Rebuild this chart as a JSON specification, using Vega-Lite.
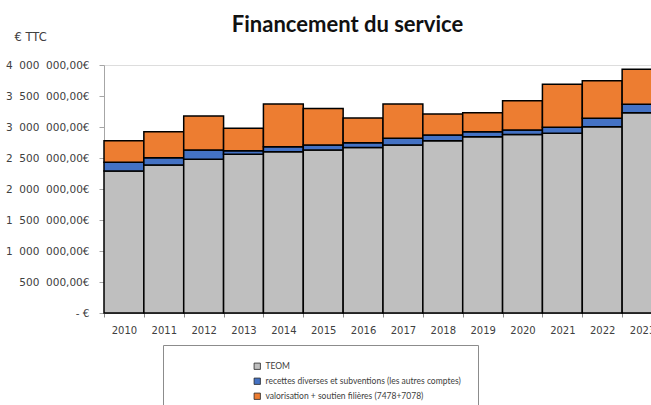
{
  "$schema": "https://vega.github.io/schema/vega-lite/v6.json",
  "width": 547,
  "height": 248,
  "autosize": {"type": "none"},
  "padding": {"left": 104, "top": 65, "right": 0, "bottom": 92},
  "background": "white",
  "title": {"text": "Financement du service", "font": "Lato", "fontSize": 22, "fontWeight": "bold", "color": "#111111", "anchor": "middle", "frame": "group", "dx": -30, "offset": -6},
  "data": {"values": [
    {"annee": "2010", "poste": "TEOM", "montant": 2290000},
    {"annee": "2010", "poste": "recettes diverses et subventions (les autres comptes)", "montant": 140000},
    {"annee": "2010", "poste": "valorisation + soutien filières (7478+7078)", "montant": 350000},
    {"annee": "2011", "poste": "TEOM", "montant": 2387000},
    {"annee": "2011", "poste": "recettes diverses et subventions (les autres comptes)", "montant": 118000},
    {"annee": "2011", "poste": "valorisation + soutien filières (7478+7078)", "montant": 420000},
    {"annee": "2012", "poste": "TEOM", "montant": 2480000},
    {"annee": "2012", "poste": "recettes diverses et subventions (les autres comptes)", "montant": 150000},
    {"annee": "2012", "poste": "valorisation + soutien filières (7478+7078)", "montant": 547000},
    {"annee": "2013", "poste": "TEOM", "montant": 2560000},
    {"annee": "2013", "poste": "recettes diverses et subventions (les autres comptes)", "montant": 58000},
    {"annee": "2013", "poste": "valorisation + soutien filières (7478+7078)", "montant": 362000},
    {"annee": "2014", "poste": "TEOM", "montant": 2600000},
    {"annee": "2014", "poste": "recettes diverses et subventions (les autres comptes)", "montant": 83000},
    {"annee": "2014", "poste": "valorisation + soutien filières (7478+7078)", "montant": 687000},
    {"annee": "2015", "poste": "TEOM", "montant": 2630000},
    {"annee": "2015", "poste": "recettes diverses et subventions (les autres comptes)", "montant": 80000},
    {"annee": "2015", "poste": "valorisation + soutien filières (7478+7078)", "montant": 590000},
    {"annee": "2016", "poste": "TEOM", "montant": 2670000},
    {"annee": "2016", "poste": "recettes diverses et subventions (les autres comptes)", "montant": 77000},
    {"annee": "2016", "poste": "valorisation + soutien filières (7478+7078)", "montant": 400000},
    {"annee": "2017", "poste": "TEOM", "montant": 2710000},
    {"annee": "2017", "poste": "recettes diverses et subventions (les autres comptes)", "montant": 107000},
    {"annee": "2017", "poste": "valorisation + soutien filières (7478+7078)", "montant": 553000},
    {"annee": "2018", "poste": "TEOM", "montant": 2780000},
    {"annee": "2018", "poste": "recettes diverses et subventions (les autres comptes)", "montant": 90000},
    {"annee": "2018", "poste": "valorisation + soutien filières (7478+7078)", "montant": 340000},
    {"annee": "2019", "poste": "TEOM", "montant": 2844000},
    {"annee": "2019", "poste": "recettes diverses et subventions (les autres comptes)", "montant": 81000},
    {"annee": "2019", "poste": "valorisation + soutien filières (7478+7078)", "montant": 305000},
    {"annee": "2020", "poste": "TEOM", "montant": 2880000},
    {"annee": "2020", "poste": "recettes diverses et subventions (les autres comptes)", "montant": 70000},
    {"annee": "2020", "poste": "valorisation + soutien filières (7478+7078)", "montant": 475000},
    {"annee": "2021", "poste": "TEOM", "montant": 2900000},
    {"annee": "2021", "poste": "recettes diverses et subventions (les autres comptes)", "montant": 95000},
    {"annee": "2021", "poste": "valorisation + soutien filières (7478+7078)", "montant": 695000},
    {"annee": "2022", "poste": "TEOM", "montant": 3005000},
    {"annee": "2022", "poste": "recettes diverses et subventions (les autres comptes)", "montant": 135000},
    {"annee": "2022", "poste": "valorisation + soutien filières (7478+7078)", "montant": 607000},
    {"annee": "2023", "poste": "TEOM", "montant": 3230000},
    {"annee": "2023", "poste": "recettes diverses et subventions (les autres comptes)", "montant": 136000},
    {"annee": "2023", "poste": "valorisation + soutien filières (7478+7078)", "montant": 564000}
  ]},
  "mark": {"type": "bar", "stroke": "#000000", "strokeWidth": 1.5},
  "encoding": {
    "x": {
      "field": "annee", "type": "ordinal",
      "scale": {"range": [0, 558], "paddingInner": 0, "paddingOuter": 0},
      "axis": {"title": null, "labelAngle": 0, "tickBand": "extent", "labelFont": "DejaVu Sans", "labelFontSize": 10, "labelColor": "#404040", "domainColor": "#8c8c8c", "tickColor": "#8c8c8c", "tickSize": 4, "labelPadding": 8, "grid": false}
    },
    "y": {
      "field": "montant", "type": "quantitative", "stack": "zero",
      "scale": {"domain": [0, 4000000]},
      "axis": {
        "title": "€ TTC", "titleAngle": 0, "titleX": -90, "titleY": -28, "titleAlign": "left", "titleBaseline": "middle",
        "titleFont": "DejaVu Sans", "titleFontSize": 11.5, "titleFontWeight": "normal", "titleColor": "#404040",
        "values": [0, 500000, 1000000, 1500000, 2000000, 2500000, 3000000, 3500000, 4000000],
        "labelExpr": "datum.value == 0 ? '-    €' : replace(replace(format(datum.value, ',.2f'), regexp(',', 'g'), '\u2007'), '.', ',') + '€'",
        "labelFont": "DejaVu Sans", "labelFontSize": 10.5, "labelColor": "#404040", "tickSize": 5, "labelPadding": 10,
        "grid": false, "domainColor": "#a6a6a6", "tickColor": "#a6a6a6"
      }
    },
    "color": {
      "field": "poste", "type": "nominal",
      "sort": ["TEOM", "recettes diverses et subventions (les autres comptes)", "valorisation + soutien filières (7478+7078)"],
      "scale": {
        "domain": ["TEOM", "recettes diverses et subventions (les autres comptes)", "valorisation + soutien filières (7478+7078)"],
        "range": ["#bfbfbf", "#4472c4", "#ed7d31"]
      },
      "legend": {
        "orient": "none", "legendX": 59, "legendY": 280,
        "title": " ", "titleOrient": "left", "titlePadding": 73,
        "padding": 17, "strokeColor": "#8c8c8c", "fillColor": "white",
        "labelFont": "Lato", "labelFontSize": 8.5, "labelColor": "#404040", "labelLimit": 400,
        "symbolType": "square", "symbolSize": 40, "symbolStrokeColor": "#262626", "symbolStrokeWidth": 0.8,
        "rowPadding": 4
      }
    },
    "order": {"field": "poste", "type": "nominal", "sort": "ascending"}
  }
}
